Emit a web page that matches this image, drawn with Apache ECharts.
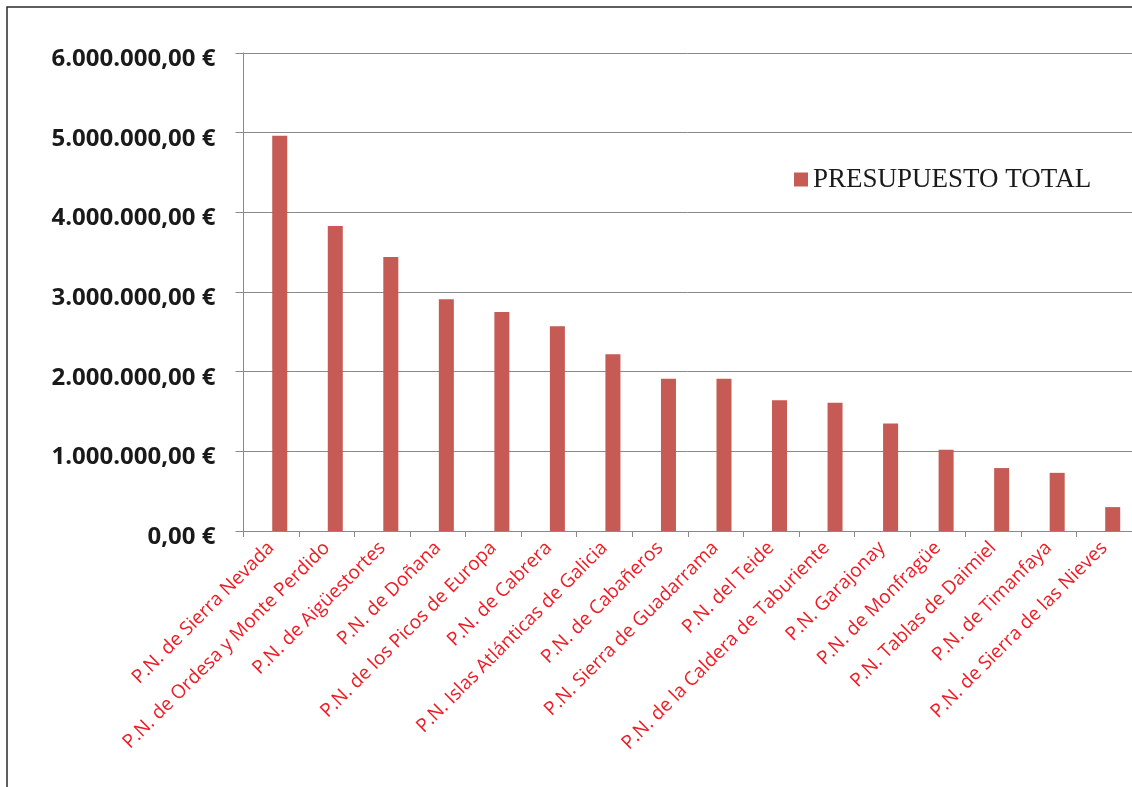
<!DOCTYPE html>
<html>
<head>
<meta charset="utf-8">
<script src="https://cdn.jsdelivr.net/npm/echarts@6/dist/echarts.min.js"></script>
<style>
  html, body { margin: 0; padding: 0; background: #ffffff; }
  #chart { width: 1132px; height: 787px; }
</style>
</head>
<body>
<div id="chart"></div>
<script>
// Presupuesto total por Parque Nacional (euros)
const parques = [
  'P.N. de Sierra Nevada',
  'P.N. de Ordesa y Monte Perdido',
  'P.N. de Aigüestortes',
  'P.N. de Doñana',
  'P.N. de los Picos de Europa',
  'P.N. de Cabrera',
  'P.N. Islas Atlánticas de Galicia',
  'P.N. de Cabañeros',
  'P.N. Sierra de Guadarrama',
  'P.N. del Teide',
  'P.N. de la Caldera de Taburiente',
  'P.N. Garajonay',
  'P.N. de Monfragüe',
  'P.N. Tablas de Daimiel',
  'P.N. de Timanfaya',
  'P.N. de Sierra de las Nieves'
];

const presupuestoTotal = [
  4960000, 3830000, 3440000, 2910000, 2750000, 2570000, 2220000, 1910000,
  1910000, 1640000, 1610000, 1350000, 1020000, 790000, 730000, 300000
];

const nombreSerie = 'PRESUPUESTO TOTAL';
const ejeMin = 0;
const ejeMax = 6000000;
const ejeIntervalo = 1000000;

// 1234567 -> "1.234.567,00 €"
function formatoEuro(v) {
  const partes = Math.round(v * 100) / 100;
  const entero = Math.floor(partes).toString().replace(/\B(?=(\d{3})+(?!\d))/g, '.');
  const dec = Math.round((partes - Math.floor(partes)) * 100).toString().padStart(2, '0');
  return entero + ',' + dec + ' €';
}

const chart = echarts.init(document.getElementById('chart'), null, { renderer: 'canvas' });

const gris = '#8a8a8a';

chart.setOption({
  animation: false,
  backgroundColor: '#ffffff',
  graphic: [{
    type: 'rect',
    shape: { x: 7, y: 7, width: 1400, height: 1000 },
    style: { fill: 'none', stroke: '#2a2a2a', lineWidth: 1.5 },
    silent: true
  }],
  legend: {
    data: [nombreSerie],
    left: 789,
    top: 161,
    itemWidth: 14,
    itemHeight: 14,
    itemGap: 6,
    icon: 'rect',
    textStyle: {
      fontFamily: 'Liberation Serif',
      fontSize: 27,
      color: '#1a1a1a'
    }
  },
  grid: {
    left: 243.5,
    top: 53,
    width: 893,
    bottom: 256,
    containLabel: false
  },
  xAxis: {
    type: 'category',
    data: parques,
    boundaryGap: true,
    axisLine: { show: true, lineStyle: { color: gris, width: 1 } },
    axisTick: { show: true, alignWithLabel: false, length: 6, lineStyle: { color: gris } },
    axisLabel: {
      interval: 0,
      rotate: 45,
      margin: 14,
      color: '#ee1c25',
      fontFamily: 'Open Sans',
      fontSize: 19
    },
    splitLine: { show: false }
  },
  yAxis: {
    type: 'value',
    min: ejeMin,
    max: ejeMax,
    interval: ejeIntervalo,
    axisLine: { show: true, lineStyle: { color: gris, width: 1 } },
    axisTick: { show: true, length: 8, lineStyle: { color: gris } },
    splitLine: { show: true, lineStyle: { color: gris, width: 1 } },
    axisLabel: {
      margin: 28,
      verticalAlign: 'top',
      lineHeight: 12,
      color: '#1a1a1a',
      fontFamily: 'Open Sans',
      fontWeight: 'bold',
      fontSize: 24,
      formatter: formatoEuro
    }
  },
  series: [
    {
      // hueco vacío a la izquierda de cada barra
      name: 'hueco',
      type: 'bar',
      data: [],
      barWidth: 15,
      barGap: '13%'
    },
    {
      name: nombreSerie,
      type: 'bar',
      data: presupuestoTotal,
      barWidth: 15,
      barGap: '13%',
      itemStyle: { color: '#c65a55' }
    }
  ]
});
</script>
</body>
</html>
